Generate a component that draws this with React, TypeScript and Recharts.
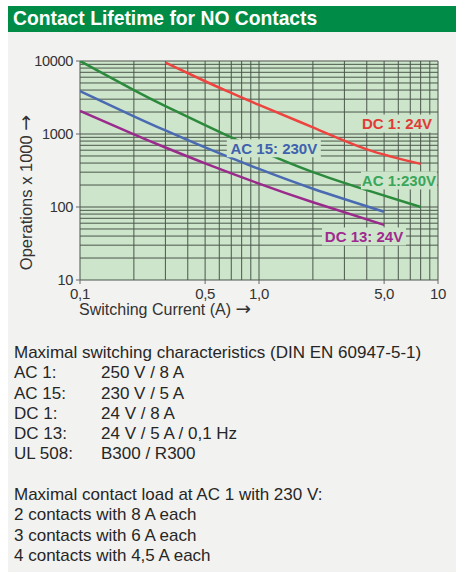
import { LineChart, Line, XAxis, YAxis, CartesianGrid, ReferenceDot } from 'recharts';

// switching current (A) -> operations x 1000
const ac1Current = [0.1, 0.2, 0.3, 0.5, 1, 2, 4, 8];
const ac1Ops = [10000, 3980, 2400, 1320, 600, 300, 170, 100];

const dc1Current = [0.3, 0.5, 0.7, 1, 2, 4, 8];
const dc1Ops = [9500, 5280, 3650, 2500, 1230, 617, 390];

const ac15Current = [0.1, 0.2, 0.3, 0.5, 1, 2, 5];
const ac15Ops = [3880, 1750, 1120, 655, 332, 178, 86];

const dc13Current = [0.1, 0.2, 0.3, 0.5, 1, 2, 5];
const dc13Ops = [2070, 990, 653, 396, 209, 116, 57];

// log grid
const xGridTicks = [0.1, 0.2, 0.3, 0.4, 0.5, 0.6, 0.7, 0.8, 0.9, 1, 2, 3, 4, 5, 6, 7, 8, 9, 10];
const yGridTicks = [
  10, 20, 30, 40, 50, 60, 70, 80, 90,
  100, 200, 300, 400, 500, 600, 700, 800, 900,
  1000, 2000, 3000, 4000, 5000, 6000, 7000, 8000, 9000, 10000,
];
const xLabelValues = [0.1, 0.5, 1, 5, 10];
const xLabelTexts = ['0,1', '0,5', '1,0', '5,0', '10'];
const yLabelValues = [10, 100, 1000, 10000];

const tags = [
  { text: 'DC 1: 24V', current: 5.9, ops: 1390, color: '#e23a36', w: 74 },
  { text: 'AC 15: 230V', current: 1.21, ops: 637, color: '#3f62ae', w: 94 },
  { text: 'AC 1:230V', current: 6.05, ops: 231, color: '#3aa65a', w: 76 },
  { text: 'DC 13: 24V', current: 3.86, ops: 39.5, color: '#a02a8e', w: 84 },
];

const FONT = '"Liberation Sans", Arial, sans-serif';
const PLOT_LEFT = 80;
const PLOT_BOTTOM = 280;
const PLOT_BG = '#cde5cb';
const GRID = '#4a574a';

const toPoints = (cur: number[], ops: number[]) => cur.map((c, i) => ({ current: c, ops: ops[i] }));

function YTick({ y, payload }: any) {
  if (!yLabelValues.includes(payload.value)) return null;
  return (
    <g>
      <line x1={PLOT_LEFT - 4} x2={PLOT_LEFT} y1={y} y2={y} stroke="#666" />
      <text x={PLOT_LEFT - 7} y={y} dy={5} textAnchor="end" fontSize={14.5} fill="#333" fontFamily={FONT} letterSpacing={-0.3}>
        {payload.value}
      </text>
    </g>
  );
}

function XTick({ x, payload }: any) {
  const i = xLabelValues.indexOf(payload.value);
  if (i < 0) return null;
  return (
    <g>
      <line x1={x} x2={x} y1={PLOT_BOTTOM} y2={PLOT_BOTTOM + 4} stroke="#666" />
      <text x={x} y={PLOT_BOTTOM + 19} textAnchor="middle" fontSize={15} fill="#333" fontFamily={FONT} letterSpacing={-0.3}>
        {xLabelTexts[i]}
      </text>
    </g>
  );
}

function Tag({ cx, cy, text, color, w }: any) {
  return (
    <g>
      <rect x={cx - w / 2} y={cy - 9} width={w} height={18} fill={PLOT_BG} />
      <text x={cx} y={cy} dy={5.5} textAnchor="middle" fontSize={15} fontWeight="bold" fill={color} fontFamily={FONT}>
        {text}
      </text>
    </g>
  );
}

const Arrow = () => <span style={{ fontFamily: '"DejaVu Sans", sans-serif', fontSize: '1.15em', lineHeight: 0 }}>→</span>;

const specLines: [string, string][] = [
  ['AC 1:', '250 V / 8 A'],
  ['AC 15:', '230 V / 5 A'],
  ['DC 1:', '24 V / 8 A'],
  ['DC 13:', '24 V / 5 A / 0,1 Hz'],
  ['UL 508:', 'B300 / R300'],
];
const loadLines = ['2 contacts with 8 A each', '3 contacts with 6 A each', '4 contacts with 4,5 A each'];

export default function App() {
  return (
    <div style={{ position: 'absolute', left: 0, top: 0, width: 456, height: 572, background: '#fff', fontFamily: FONT }}>
      <div style={{ position: 'absolute', left: 8, top: 32, width: 448, height: 540, background: '#f2f2f0' }} />
      <div
        style={{
          position: 'absolute', left: 8, top: 6, width: 448, height: 26, background: '#008c46',
          color: '#fff', fontWeight: 'bold', fontSize: 19.3, lineHeight: '26px', paddingLeft: 5, boxSizing: 'border-box',
        }}
      >
        Contact Lifetime for NO Contacts
      </div>

      <div style={{ position: 'absolute', left: 0, top: 0 }}>
        <LineChart width={456} height={330} margin={{ top: 61, right: 18, bottom: 20, left: 20 }}>
          <CartesianGrid stroke={GRID} strokeWidth={1} fill={PLOT_BG} fillOpacity={1} />
          <XAxis
            dataKey="current"
            type="number"
            scale="log"
            domain={[0.1, 10]}
            allowDataOverflow
            ticks={xGridTicks}
            interval={0}
            tick={<XTick />}
            tickLine={false}
            axisLine={false}
            height={30}
          />
          <YAxis
            type="number"
            scale="log"
            domain={[10, 10000]}
            allowDataOverflow
            ticks={yGridTicks}
            interval={0}
            tick={<YTick />}
            tickLine={false}
            axisLine={false}
            width={60}
          />
          <Line data={toPoints(dc1Current, dc1Ops)} dataKey="ops" type="natural" stroke="#ee4440" strokeWidth={2.5} dot={false} isAnimationActive={false} />
          <Line data={toPoints(ac1Current, ac1Ops)} dataKey="ops" type="natural" stroke="#2c8a3c" strokeWidth={2.5} dot={false} isAnimationActive={false} />
          <Line data={toPoints(ac15Current, ac15Ops)} dataKey="ops" type="natural" stroke="#4a6ab2" strokeWidth={2.5} dot={false} isAnimationActive={false} />
          <Line data={toPoints(dc13Current, dc13Ops)} dataKey="ops" type="natural" stroke="#9a2a8c" strokeWidth={2.5} dot={false} isAnimationActive={false} />
          {tags.map((t) => (
            <ReferenceDot
              key={t.text}
              x={t.current}
              y={t.ops}
              r={0}
              shape={(p: any) => <Tag cx={p.cx} cy={p.cy} text={t.text} color={t.color} w={t.w} />}
            />
          ))}
        </LineChart>
      </div>

      <div
        style={{
          position: 'absolute', left: 7, top: 107, width: 40, height: 170,
          display: 'flex', alignItems: 'center', justifyContent: 'center',
        }}
      >
        <div style={{ transform: 'rotate(-90deg)', whiteSpace: 'nowrap', fontSize: 16.5, color: '#333' }}>
          Operations x 1000 <Arrow />
        </div>
      </div>
      <div style={{ position: 'absolute', left: 79, top: 300, fontSize: 16, color: '#333', whiteSpace: 'nowrap', lineHeight: '20px' }}>
        Switching Current (A) <Arrow />
      </div>

      <div style={{ position: 'absolute', left: 14, top: 343, fontSize: 17, lineHeight: '20.3px', color: '#262626', whiteSpace: 'nowrap' }}>
        <div>Maximal switching characteristics (DIN EN 60947-5-1)</div>
        {specLines.map(([k, v]) => (
          <div key={k} style={{ display: 'flex' }}>
            <span style={{ width: 87 }}>{k}</span>
            <span>{v}</span>
          </div>
        ))}
        <div style={{ height: 20.3 }} />
        <div>Maximal contact load at AC 1 with 230 V:</div>
        {loadLines.map((l) => (
          <div key={l}>{l}</div>
        ))}
      </div>
    </div>
  );
}
